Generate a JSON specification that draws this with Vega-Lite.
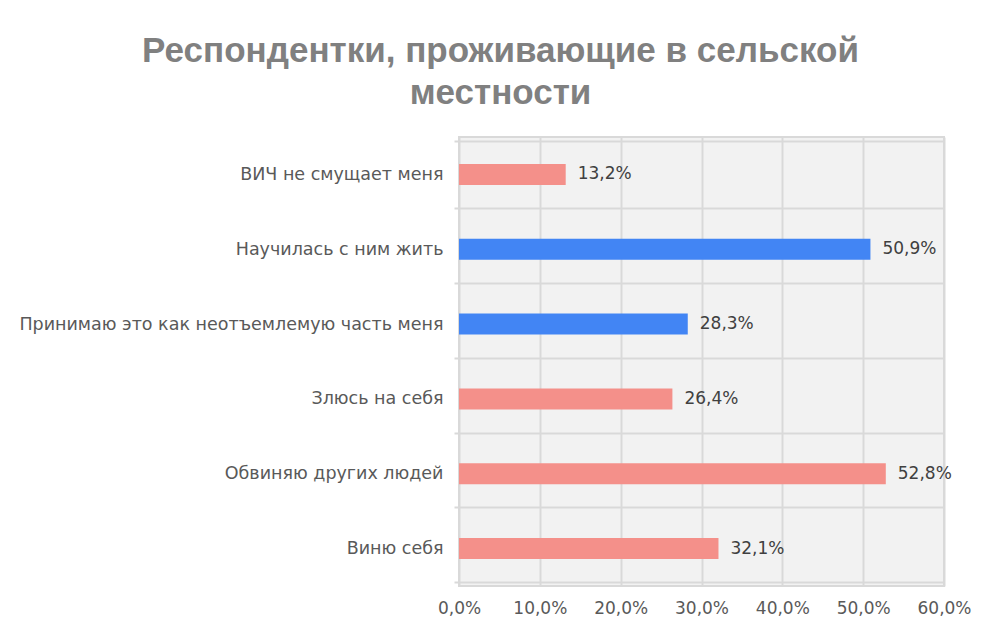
{
  "$schema": "https://vega.github.io/schema/vega-lite/v6.json",
  "width": 485,
  "height": 449,
  "autosize": {"type": "none"},
  "padding": {"left": 459, "top": 137, "right": 41, "bottom": 42},
  "background": "white",
  "title": {
    "text": ["Респондентки, проживающие в сельской", "местности"],
    "font": "Liberation Sans",
    "fontSize": 35,
    "fontWeight": "bold",
    "color": "#808080",
    "anchor": "middle",
    "frame": "group",
    "dx": -201,
    "offset": 17,
    "lineHeight": 42
  },
  "data": {
    "values": [
      {"category": "ВИЧ не смущает меня", "value": 0.132, "group": "a"},
      {"category": "Научилась с ним жить", "value": 0.509, "group": "b"},
      {"category": "Принимаю это как неотъемлемую часть меня", "value": 0.283, "group": "b"},
      {"category": "Злюсь на себя", "value": 0.264, "group": "a"},
      {"category": "Обвиняю других людей", "value": 0.528, "group": "a"},
      {"category": "Виню себя", "value": 0.321, "group": "a"}
    ]
  },
  "encoding": {
    "y": {
      "field": "category",
      "type": "nominal",
      "sort": null,
      "title": null,
      "axis": {
        "labelFont": "DejaVu Sans",
        "labelFontSize": 17.5,
        "labelColor": "#595959",
        "labelPadding": 11,
        "labelLimit": 500,
        "domain": false,
        "ticks": true,
        "tickSize": 5,
        "tickColor": "#d9d9d9",
        "tickWidth": 2,
        "tickBand": "extent",
        "grid": true,
        "gridColor": "#d9d9d9",
        "gridWidth": 2
      }
    },
    "x": {
      "field": "value",
      "type": "quantitative",
      "title": null,
      "scale": {"domain": [0, 0.6], "nice": false},
      "axis": {
        "values": [0, 0.1, 0.2, 0.3, 0.4, 0.5, 0.6],
        "format": ".1%",
        "labelFont": "DejaVu Sans",
        "labelFontSize": 17,
        "labelColor": "#595959",
        "labelPadding": 14,
        "labelOverlap": false,
        "labelFlush": false,
        "ticks": false,
        "domain": false,
        "grid": true,
        "gridColor": "#d9d9d9",
        "gridWidth": 2
      }
    }
  },
  "layer": [
    {
      "mark": {"type": "bar", "size": 21},
      "encoding": {
        "color": {
          "field": "group",
          "type": "nominal",
          "scale": {"domain": ["a", "b"], "range": ["#F4908A", "#4285F4"]},
          "legend": null
        }
      }
    },
    {
      "mark": {
        "type": "text",
        "align": "left",
        "baseline": "middle",
        "dx": 12,
        "font": "DejaVu Sans",
        "fontSize": 17,
        "color": "#404040"
      },
      "encoding": {
        "text": {"field": "value", "type": "quantitative", "format": ".1%"}
      }
    }
  ],
  "config": {
    "locale": {
      "number": {
        "decimal": ",",
        "thousands": " ",
        "grouping": [3],
        "currency": ["", " ₽"]
      }
    },
    "view": {"stroke": "#d9d9d9", "strokeWidth": 2, "fill": "#f2f2f2"}
  }
}
